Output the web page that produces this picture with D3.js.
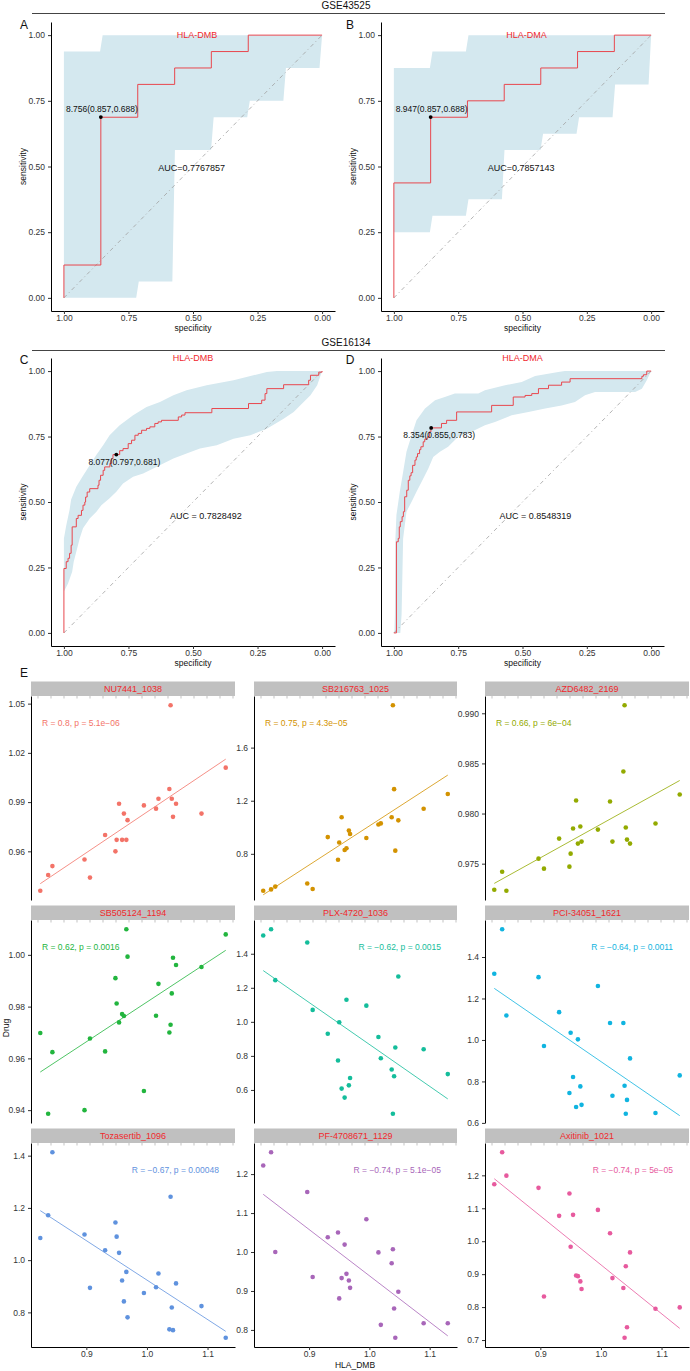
<!DOCTYPE html>
<html>
<head>
<meta charset="utf-8">
<script src="https://cdn.jsdelivr.net/npm/d3@7"></script>
<style>
  body { margin: 0; background: #fff; }
  text { font-family: Arial, "Liberation Sans", sans-serif; }
</style>
</head>
<body>
<svg id="fig" width="690" height="1371"></svg>
<script>
// ---------- ROC data: [specificity, sensitivity] ----------
const rocA = [[1,0],[1,0.125],[0.857,0.6875],[0.714,0.8125],[0.571,0.875],[0.429,0.9375],[0.286,1],[0,1]];
const rocB = [[1,0],[1,0.4375],[0.857,0.6875],[0.714,0.75],[0.571,0.8125],[0.429,0.875],[0.286,0.9375],[0.143,1],[0,1]];
const rocC = [[1,0],[1,0.246],[0.991,0.272],[0.984,0.285],[0.978,0.304],[0.972,0.335],[0.968,0.405],[0.952,0.437],
  [0.945,0.449],[0.932,0.468],[0.926,0.488],[0.919,0.5],[0.916,0.519],[0.91,0.538],[0.9,0.551],[0.868,0.564],
  [0.864,0.583],[0.858,0.602],[0.848,0.621],[0.842,0.634],[0.822,0.647],[0.816,0.665],[0.81,0.681],[0.784,0.696],
  [0.771,0.704],[0.751,0.723],[0.738,0.736],[0.725,0.755],[0.712,0.762],[0.699,0.774],[0.68,0.781],[0.667,0.787],
  [0.648,0.8],[0.635,0.806],[0.622,0.812],[0.557,0.825],[0.544,0.832],[0.531,0.841],[0.427,0.857],[0.285,0.876],
  [0.234,0.889],[0.221,0.914],[0.214,0.933],[0.149,0.948],[0.052,0.965],[0.045,0.984],[0.013,0.996],[0,1]];
const rocD = [[1,0],[0.99,0.348],[0.983,0.361],[0.979,0.405],[0.975,0.425],[0.968,0.444],[0.963,0.463],[0.958,0.52],
  [0.95,0.545],[0.944,0.583],[0.938,0.6],[0.933,0.612],[0.927,0.64],[0.918,0.66],[0.913,0.672],[0.908,0.685],
  [0.9,0.7],[0.895,0.711],[0.886,0.73],[0.88,0.74],[0.87,0.749],[0.862,0.768],[0.856,0.783],[0.815,0.8],
  [0.795,0.812],[0.756,0.844],[0.62,0.869],[0.536,0.901],[0.49,0.907],[0.464,0.914],[0.438,0.933],[0.399,0.946],
  [0.348,0.958],[0.315,0.971],[0.036,0.98],[0.03,0.986],[0.017,1],[0,1]];

// confidence bands of sensitivity: upper and lower edges
const bandAUp = [[1,0.9375],[0.86,0.9375],[0.85,1],[0,1]];
const bandALo = [[1,0],[0.72,0],[0.71,0.0625],[0.58,0.0625],[0.57,0.5625],[0.43,0.5625],[0.42,0.6875],[0.29,0.6875],
  [0.28,0.75],[0.15,0.75],[0.14,0.875],[0.01,0.875],[0,1]];
const bandBUp = [[1,0.875],[0.86,0.875],[0.85,0.9375],[0.72,0.9375],[0.71,1],[0,1]];
const bandBLo = [[1,0.25],[0.86,0.25],[0.85,0.3125],[0.72,0.3125],[0.71,0.375],[0.58,0.375],[0.57,0.5625],[0.43,0.5625],
  [0.42,0.625],[0.29,0.625],[0.28,0.6875],[0.15,0.6875],[0.14,0.8125],[0.01,0.8125],[0,1]];
const bandCUp = [[1,0.361],[0.991,0.41],[0.978,0.47],[0.972,0.51],[0.952,0.558],[0.926,0.6],[0.9,0.64],[0.874,0.68],
  [0.848,0.717],[0.823,0.755],[0.784,0.793],[0.732,0.831],[0.68,0.863],[0.628,0.882],[0.576,0.908],[0.525,0.927],
  [0.447,0.946],[0.343,0.965],[0.266,0.984],[0.214,0.997],[0.175,1],[0,1]];
const bandCLo = [[1,0.158],[0.984,0.189],[0.968,0.234],[0.962,0.272],[0.952,0.31],[0.939,0.361],[0.926,0.4],[0.9,0.437],
  [0.874,0.463],[0.855,0.488],[0.823,0.514],[0.797,0.539],[0.771,0.571],[0.732,0.596],[0.693,0.609],[0.654,0.628],
  [0.615,0.647],[0.576,0.666],[0.525,0.685],[0.473,0.704],[0.408,0.717],[0.343,0.742],[0.278,0.755],[0.214,0.78],
  [0.149,0.818],[0.11,0.844],[0.084,0.87],[0.045,0.908],[0.019,0.946],[0,1]];
const bandDUp = [[0.998,0],[0.996,0.069],[0.994,0.361],[0.99,0.45],[0.977,0.539],[0.964,0.615],[0.951,0.692],[0.931,0.755],
  [0.912,0.812],[0.879,0.857],[0.84,0.889],[0.802,0.901],[0.763,0.914],[0.672,0.914],[0.646,0.927],[0.568,0.946],
  [0.503,0.958],[0.451,0.981],[0.361,0.997],[0.335,1],[0,1]];
const bandDLo = [[0.975,0],[0.97,0.069],[0.964,0.361],[0.951,0.463],[0.931,0.501],[0.912,0.539],[0.892,0.577],[0.866,0.628],
  [0.847,0.672],[0.821,0.692],[0.789,0.711],[0.75,0.749],[0.698,0.768],[0.646,0.793],[0.607,0.806],[0.542,0.831],
  [0.477,0.844],[0.412,0.857],[0.348,0.869],[0.296,0.882],[0.257,0.908],[0.218,0.92],[0.062,0.92],[0.036,0.933],
  [0.017,0.965],[0,1]];

const rocGenes = ["HLA-DMB", "HLA-DMA", "HLA-DMB", "HLA-DMA"];
const rocBest = [[0.857,0.688],[0.857,0.688],[0.797,0.681],[0.855,0.783]];
const rocBestLabels = ["8.756(0.857,0.688)", "8.947(0.857,0.688)", "8.077(0.797,0.681)", "8.354(0.855,0.783)"];
const rocAucLabels = ["AUC=0.7767857", "AUC=0.7857143", "AUC = 0.7828492", "AUC = 0.8548319"];
const rocTicks = [0, 0.25, 0.5, 0.75, 1];
const datasets = ["GSE43525", "GSE16134"];

// ---------- drug sensitivity vs HLA_DMB ----------
const hlaDmb = [0.824,0.837,0.844,0.897,0.906,0.931,0.948,0.950,0.954,0.959,0.962,0.966,0.968,0.995,1.015,1.019,1.037,1.039,1.041,1.043,1.048,1.090,1.130];
const nu7441 = [0.936,0.9456,0.951,0.955,0.944,0.970,0.960,0.967,0.989,0.967,0.983,0.967,0.979,0.988,0.986,0.992,0.998,1.049,0.992,0.981,0.989,0.983,1.011];
const sb216763 = [0.522,0.532,0.553,0.576,0.535,0.926,0.755,0.885,1.075,0.829,0.842,0.975,0.949,0.919,1.021,1.029,1.075,1.919,1.287,0.824,1.052,1.139,1.251];
const azd6482 = [0.9724,0.9742,0.9723,0.9755,0.9745,0.9775,0.9747,0.9760,0.9785,0.9813,0.9770,0.9787,0.9772,0.9784,0.9812,0.9772,0.9842,0.9908,0.9786,0.9774,0.9770,0.9790,0.9819];
const sb505124 = [0.9698,0.9386,0.9624,0.9400,0.9677,0.9627,0.9910,0.9812,0.9739,0.9771,0.9764,1.0099,0.9993,0.9474,0.9765,0.9888,0.9700,0.9730,0.9851,0.9989,0.9961,0.9953,1.0079];
const plx4720 = [1.507,1.544,1.245,1.466,1.070,0.930,0.773,0.998,0.608,0.555,1.130,0.627,0.670,1.095,0.911,0.786,0.720,0.460,0.680,0.849,1.266,0.839,0.693];
const pci34051 = [1.319,1.534,1.118,1.303,0.971,1.134,0.744,1.035,0.821,0.677,1.003,0.776,0.687,1.260,1.082,0.731,1.082,0.779,0.644,0.711,0.911,0.648,0.829];
const tozasertib = [1.085,1.172,1.413,1.098,0.894,1.038,1.144,1.090,1.028,0.922,0.842,0.955,0.781,0.874,0.896,0.949,0.735,1.243,0.819,0.732,0.911,0.824,0.703];
const pf4708671 = [1.222,1.256,1.000,1.154,0.936,1.038,1.050,0.881,0.933,1.019,0.944,0.927,0.908,1.084,0.999,0.813,0.971,1.007,0.855,0.780,0.898,0.817,0.817];
const axitinib = [1.173,1.270,1.199,1.162,0.832,1.077,1.145,0.983,1.080,0.896,0.894,0.878,0.855,1.095,1.024,0.888,0.858,0.707,0.924,0.739,0.966,0.795,0.799];

const drugNames = ["NU7441_1038","SB216763_1025","AZD6482_2169","SB505124_1194","PLX-4720_1036","PCI-34051_1621","Tozasertib_1096","PF-4708671_1129","Axitinib_1021"];
const drugValues = [nu7441, sb216763, azd6482, sb505124, plx4720, pci34051, tozasertib, pf4708671, axitinib];
const corLabels = ["R = 0.8, p = 5.1e\u221206","R = 0.75, p = 4.3e\u221205","R = 0.66, p = 6e\u221204","R = 0.62, p = 0.0016",
  "R = \u22120.62, p = 0.0015","R = \u22120.64, p = 0.0011","R = \u22120.67, p = 0.00048","R = \u22120.74, p = 5.1e\u221205","R = \u22120.74, p = 5e\u221205"];
const drugColors = ["#F37368","#D39200","#93AA00","#22B53E","#14BD9B","#10B4E0","#5F92DE","#A866B9","#E75A9E"];
const yTicks = [[0.96,0.99,1.02,1.05],[0.8,1.2,1.6],[0.975,0.980,0.985,0.990],[0.94,0.96,0.98,1.00],
  [0.6,0.8,1.0,1.2,1.4],[0.6,0.8,1.0,1.2,1.4],[0.8,1.0,1.2,1.4],[0.8,0.9,1.0,1.1,1.2],[0.7,0.8,0.9,1.0,1.1,1.2]];
const yDecimals = [2,1,3,2,1,1,1,1,1];
const xTicks = [0.9, 1.0, 1.1];

// ---------- drawing ----------
const svg = d3.select("#fig");
const tickCol = "#333";

// dataset headers
const headerY = [9, 346];
datasets.forEach((name, i) => {
  svg.append("text").attr("x", 346).attr("y", headerY[i]).attr("text-anchor", "middle")
    .attr("font-size", 10).attr("fill", "#111").text(name);
  svg.append("line").attr("x1", 32).attr("x2", 665).attr("y1", headerY[i] + 4.5).attr("y2", headerY[i] + 4.5)
    .attr("stroke", "#444").attr("stroke-width", 1);
});

// ROC panels
const rocCurves = [rocA, rocB, rocC, rocD];
const rocBands = [[bandAUp, bandALo], [bandBUp, bandBLo], [bandCUp, bandCLo], [bandDUp, bandDLo]];
const rocCols = [[51, 335], [381, 664]];
const rocRows = [[311, 22], [646, 358]];
const letters = ["A", "B", "C", "D"];

rocCurves.forEach((curve, i) => {
  const col = i % 2, row = Math.floor(i / 2);
  const x = d3.scaleLinear().domain([1.05, -0.05]).range(rocCols[col]);
  const y = d3.scaleLinear().domain([-0.05, 1.05]).range(rocRows[row]);
  const g = svg.append("g");
  const line = d3.line().x(d => x(d[0])).y(d => y(d[1]));

  // band
  const [up, lo] = rocBands[i];
  g.append("path").attr("d", line(up.concat(lo.slice().reverse())) + "Z")
    .attr("fill", "#d4e8ef").attr("stroke", "none");

  // diagonal
  g.append("line").attr("x1", x(1)).attr("y1", y(0)).attr("x2", x(0)).attr("y2", y(1))
    .attr("stroke", "#a0a0a0").attr("stroke-width", 0.8).attr("stroke-dasharray", "4,3,1,3");

  // curve
  g.append("path").attr("d", d3.line().x(d => x(d[0])).y(d => y(d[1])).curve(d3.curveStepAfter)(curve))
    .attr("fill", "none").attr("stroke", "#e8474e").attr("stroke-width", 1);

  // best threshold
  const b = rocBest[i];
  g.append("circle").attr("cx", x(b[0])).attr("cy", y(b[1])).attr("r", 1.9).attr("fill", "#000");
  g.append("text").attr("x", x(b[0]) + (row ? 8 : 1)).attr("y", y(b[1]) + (row ? 10.5 : -5))
    .attr("text-anchor", "middle").attr("font-size", 8.5).attr("fill", "#111").text(rocBestLabels[i]);

  // AUC
  const aucPos = row ? [0.45, 0.447] : [0.505, 0.494];
  g.append("text").attr("x", x(aucPos[0])).attr("y", y(aucPos[1]) + 3)
    .attr("text-anchor", "middle").attr("font-size", 9).attr("fill", "#111").text(rocAucLabels[i]);

  // gene title
  const [xa, xb] = rocCols[col];
  g.append("text").attr("x", (xa + xb) / 2 + (row ? 0 : 4)).attr("y", row ? 361 : 38)
    .attr("text-anchor", "middle").attr("font-size", 9).attr("fill", "#f0282d").text(rocGenes[i]);

  // axes
  const xAxis = g.append("g").attr("transform", `translate(0,${rocRows[row][0]})`)
    .call(d3.axisBottom(x).tickValues(rocTicks).tickSize(3).tickSizeOuter(0).tickFormat(d3.format(".2f")));
  const yAxis = g.append("g").attr("transform", `translate(${xa},0)`)
    .call(d3.axisLeft(y).tickValues(rocTicks).tickSize(3).tickSizeOuter(0).tickFormat(d3.format(".2f")));
  [xAxis, yAxis].forEach(a => {
    a.select(".domain").attr("stroke", "#000").attr("stroke-width", 1);
    a.selectAll(".tick line").attr("stroke", "#333");
    a.selectAll(".tick text").attr("font-size", 8.5).attr("fill", tickCol).attr("font-family", null);
  });
  xAxis.selectAll(".tick text").attr("dy", "0.5em");

  g.append("text").attr("x", (xa + xb) / 2).attr("y", rocRows[row][0] + 20)
    .attr("text-anchor", "middle").attr("font-size", 8.5).attr("fill", "#111").text("specificity");
  const ym = (rocRows[row][0] + rocRows[row][1]) / 2;
  g.append("text").attr("transform", `translate(${xa - 25},${ym}) rotate(-90)`)
    .attr("text-anchor", "middle").attr("font-size", 8.5).attr("fill", "#111").text("sensitivity");

  svg.append("text").attr("x", col ? 350 : 24).attr("y", row ? 364 : 29)
    .attr("text-anchor", "middle").attr("font-size", 12).attr("fill", "#111").text(letters[i]);
});

// Scatter facets
svg.append("text").attr("x", 24).attr("y", 677).attr("text-anchor", "middle")
  .attr("font-size", 12).attr("fill", "#111").text("E");

const colX = [[31, 235], [254, 457], [485, 689]];
const rowY = [[696, 900], [920, 1123], [1143, 1347]];
const expand = ([a, b]) => [a - 0.05 * (b - a), b + 0.05 * (b - a)];

drugNames.forEach((name, i) => {
  const col = i % 3, row = Math.floor(i / 3);
  const [x0, x1] = colX[col];
  const [top, bottom] = rowY[row];
  const ys = drugValues[i];
  const x = d3.scaleLinear().domain(expand(d3.extent(hlaDmb))).range([x0, x1]);
  const y = d3.scaleLinear().domain(expand(d3.extent(ys))).range([bottom, top]);
  const g = svg.append("g");
  const color = drugColors[i];

  // strip
  g.append("rect").attr("x", x0).attr("y", top - 14.5).attr("width", x1 - x0).attr("height", 14.5)
    .attr("fill", "#c0c0c0");
  g.selectAll(".stick").data(d3.range(x0 + 7, x1, 13)).enter().append("line")
    .attr("x1", d => d).attr("x2", d => d).attr("y1", top).attr("y2", top + 2.5)
    .attr("stroke", "#9a9a9a").attr("stroke-width", 0.6);
  g.append("text").attr("x", (x0 + x1) / 2).attr("y", top - 4).attr("text-anchor", "middle")
    .attr("font-size", 9).attr("fill", "#f0282d").text(name);

  // regression line
  const mx = d3.mean(hlaDmb), my = d3.mean(ys);
  const sxy = d3.sum(hlaDmb, (v, k) => (v - mx) * (ys[k] - my));
  const sxx = d3.sum(hlaDmb, v => (v - mx) ** 2);
  const slope = sxy / sxx, icpt = my - slope * mx;
  const [ex0, ex1] = d3.extent(hlaDmb);
  g.append("line").attr("x1", x(ex0)).attr("y1", y(icpt + slope * ex0))
    .attr("x2", x(ex1)).attr("y2", y(icpt + slope * ex1))
    .attr("stroke", color).attr("stroke-width", 0.8);

  // points
  g.selectAll("circle").data(hlaDmb).enter().append("circle")
    .attr("cx", d => x(d)).attr("cy", (d, k) => y(ys[k])).attr("r", 2.3).attr("fill", color);

  // correlation label
  const pos = slope > 0;
  g.append("text").attr("x", pos ? x0 + 11 : x1 - 16).attr("y", top + 30)
    .attr("text-anchor", pos ? "start" : "end").attr("font-size", 8.5).attr("fill", color).text(corLabels[i]);

  // y axis
  const ya = g.append("g").attr("transform", `translate(${x0},0)`)
    .call(d3.axisLeft(y).tickValues(yTicks[i]).tickSize(3).tickSizeOuter(0).tickFormat(d3.format(`.${yDecimals[i]}f`)));
  ya.select(".domain").attr("stroke", "#000").attr("stroke-width", 1);
  ya.selectAll(".tick line").attr("stroke", "#333");
  ya.selectAll(".tick text").attr("font-size", 8.5).attr("fill", tickCol).attr("font-family", null);

  if (row === 2) {
    const xa = g.append("g").attr("transform", `translate(0,${bottom})`)
      .call(d3.axisBottom(x).tickValues(xTicks).tickSize(3).tickSizeOuter(0).tickFormat(d3.format(".1f")));
    xa.select(".domain").attr("stroke", "#000").attr("stroke-width", 1);
    xa.selectAll(".tick line").attr("stroke", "#333");
    xa.selectAll(".tick text").attr("font-size", 8.5).attr("fill", tickCol).attr("font-family", null).attr("dy", "0.5em");
  }
});

svg.append("text").attr("x", 355).attr("y", 1368).attr("text-anchor", "middle")
  .attr("font-size", 8.5).attr("fill", "#111").text("HLA_DMB");
svg.append("text").attr("transform", "translate(9,1028) rotate(-90)").attr("text-anchor", "middle")
  .attr("font-size", 8.5).attr("fill", "#111").text("Drug");
</script>
</body>
</html>
